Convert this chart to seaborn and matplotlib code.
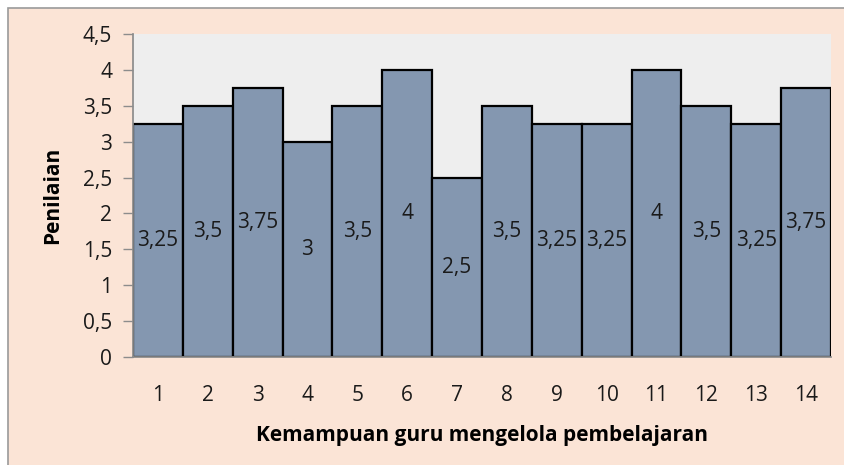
import seaborn as sns
import matplotlib.pyplot as plt
import pandas as pd
from matplotlib.patches import Rectangle
from matplotlib.ticker import FuncFormatter

# Data
kemampuan = ["1", "2", "3", "4", "5", "6", "7", "8", "9", "10", "11", "12", "13", "14"]
penilaian = [3.25, 3.5, 3.75, 3, 3.5, 4, 2.5, 3.5, 3.25, 3.25, 4, 3.5, 3.25, 3.75]

df = pd.DataFrame({"Kemampuan": kemampuan, "Penilaian": penilaian})

sns.set_theme(style="white")
plt.rcParams["font.family"] = ["Open Sans", "DejaVu Sans"]

fig = plt.figure(figsize=(8.44, 4.65), dpi=100)
fig.patch.set_facecolor("white")

# peach chart area with thin grey border
fig.patches.append(Rectangle((8 / 844, -0.01), 1.0, 1 - 8 / 465 + 0.01,
                             transform=fig.transFigure, facecolor="#FBE4D6",
                             edgecolor="#9a9a9a", linewidth=1.2, zorder=-10))

ax = fig.add_axes([133 / 844, 1 - 357 / 465, (831 - 133) / 844, (357 - 34) / 465])
ax.set_zorder(5)
ax.set_facecolor("#EEEEEE")

sns.barplot(data=df, x="Kemampuan", y="Penilaian", color="#8497B0",
            saturation=1, width=1.0, edgecolor="black", linewidth=1.6, ax=ax)

labels = [f"{v:g}".replace(".", ",") for v in penilaian]
ax.bar_label(ax.containers[0], labels=labels, label_type="center",
             fontsize=15, color="#1a1a1a")

ax.set_ylim(0, 4.5)
ax.set_xlim(-0.5, len(kemampuan) - 0.5)
ax.set_yticks([0, 0.5, 1, 1.5, 2, 2.5, 3, 3.5, 4, 4.5])
ax.yaxis.set_major_formatter(FuncFormatter(lambda v, p: f"{v:g}".replace(".", ",")))

ax.tick_params(axis="y", left=True, length=7, width=1, color="#8c8c8c",
               labelsize=15, pad=8, labelcolor="#1a1a1a")
ax.tick_params(axis="x", bottom=False, labelsize=15, pad=14, labelcolor="#1a1a1a")

for side in ["top", "right"]:
    ax.spines[side].set_visible(False)
ax.spines["left"].set_color("#8c8c8c")
ax.spines["bottom"].set_color("#8c8c8c")

ax.set_xlabel("Kemampuan guru mengelola pembelajaran", fontsize=15,
              fontweight="bold", labelpad=14, color="black")
ax.set_ylabel("Penilaian", fontsize=15, fontweight="bold", labelpad=14, color="black")

fig.savefig("out.png", dpi=100, facecolor=fig.get_facecolor())
